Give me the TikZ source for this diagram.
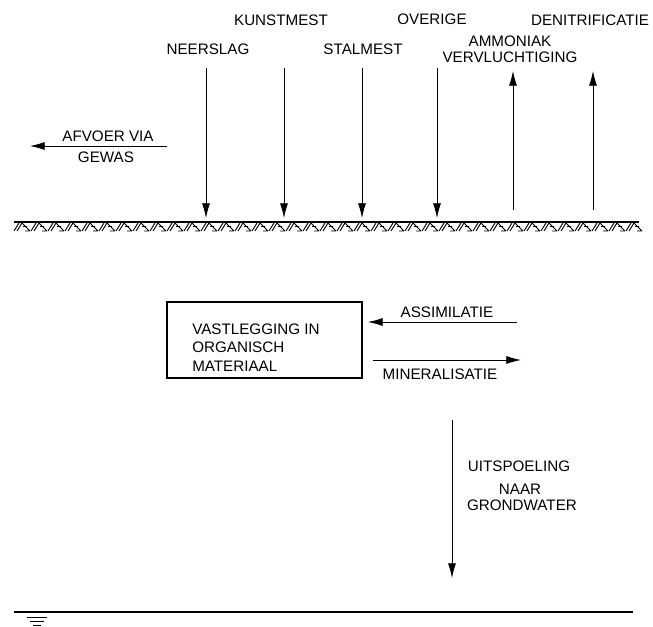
\documentclass[tikz,border=0pt]{standalone}
\usepackage{fontspec}
\setmainfont{Liberation Sans}
\usetikzlibrary{arrows.meta}

\begin{document}
\begin{tikzpicture}[every node/.style={font=\fontsize{11.4}{13}\selectfont, inner sep=0pt}, >={Latex[length=11pt, width=6pt]}, x=0.75pt, y=-0.75pt]
	\useasboundingbox (0,0) rectangle (653,627);
	% labels above ground
	\node (kunstmest) at (281,20) {KUNSTMEST};
	\node (overige) at (432,19) {OVERIGE};
	\node (denitrificatie) at (590,20) {DENITRIFICATIE};
	\node (neerslag) at (208,49) {NEERSLAG};
	\node (stalmest) at (363,49) {STALMEST};
	\node[align=center, font=\fontsize{11.4}{12}\selectfont] (ammoniak) at (510,49) {AMMONIAK\\VERVLUCHTIGING};
	\node (afvoer) at (108,136) {AFVOER VIA};
	\node (gewas) at (106,157) {GEWAS};
	% inputs and losses
	\foreach \nm/\xx in {neerslag/206, kunstmest/284, stalmest/362, overige/437} {
		\coordinate (\nm-top) at (\xx,68);
		\coordinate (\nm-bot) at (\xx,218);
		\draw[->, line width=0.6pt] (\nm-top) -- (\nm-bot);
	}
	\foreach \nm/\xx in {ammoniak/513, denitrificatie/593} {
		\coordinate (\nm-top) at (\xx,71);
		\coordinate (\nm-bot) at (\xx,210);
		\draw[->, line width=0.6pt] (\nm-bot) -- (\nm-top);
	}
	\coordinate (afvoer-r) at (167,146);
	\coordinate (afvoer-l) at (30,146);
	\draw[->, line width=0.6pt] (afvoer-r) -- (afvoer-l);
	% maaiveld
	\coordinate (maaiveld-l) at (14,222);
	\coordinate (maaiveld-r) at (639,222);
	\draw[line width=1.5pt] (maaiveld-l) -- (maaiveld-r);
	\foreach \h in {0,17,...,612} {
		\draw[line width=0.7pt] ({14+\h},231) -- ({19+\h},223) ({17+\h},231) -- ({22+\h},223) ({22+\h},223) -- ({30+\h},231) ({25+\h},231) -- ({30+\h},231) ({23+\h},226.5) -- ({27+\h},226.5);
	}
	% organische stof
	\node[draw, line width=1.1pt, minimum width=146pt, minimum height=57pt] (vastlegging) at (264.5,340) {};
	\node[anchor=west, align=left, font=\fontsize{11.4}{13.9}\selectfont] (vastlegtekst) at (192,347.5) {VASTLEGGING IN\\ORGANISCH\\MATERIAAL};
	\node (assimilatie) at (447,312) {ASSIMILATIE};
	\node (mineralisatie) at (440,374) {MINERALISATIE};
	\coordinate (assim-r) at (517,322);
	\coordinate (assim-l) at (368,322);
	\coordinate (miner-l) at (373,360);
	\coordinate (miner-r) at (521,360);
	\draw[->, line width=0.6pt] (assim-r) -- (assim-l);
	\draw[->, line width=0.6pt] (miner-l) -- (miner-r);
	% uitspoeling
	\node (uitspoeling) at (519,466) {UITSPOELING};
	\node (naar) at (520,489) {NAAR};
	\node (grondwater) at (522,505) {GRONDWATER};
	\coordinate (uitsp-top) at (452,420);
	\coordinate (uitsp-bot) at (452,578);
	\draw[->, line width=0.6pt] (uitsp-top) -- (uitsp-bot);
	% grondwaterspiegel
	\coordinate (gws-l) at (14,612);
	\coordinate (gws-r) at (633,612);
	\draw[line width=1.5pt] (gws-l) -- (gws-r);
	\draw[line width=0.6pt] (27,617) -- (47,617) (30,621) -- (44,621) (33,625) -- (41,625);
\end{tikzpicture}
\end{document}
